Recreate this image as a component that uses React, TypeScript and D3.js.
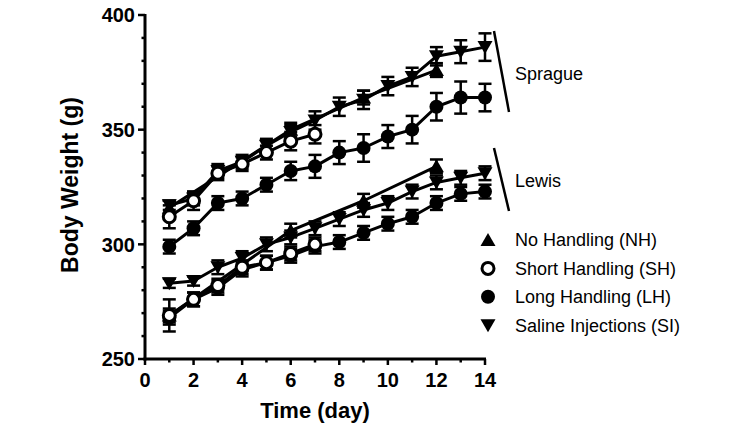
import React from 'react'
import { scaleLinear, line, range } from 'd3'

// days measured
const allDays = range(1, 15)
const earlyDays = range(1, 8)
const nhDays = [1, 6, 9, 12]

// Sprague
const spragueNH = [316, 350, 364, 376]
const spragueNHErr = [3, 3, 3, 3]
const spragueSH = [312, 319, 331, 335, 340, 345, 348]
const spragueSHErr = [5, 4, 3, 3, 3, 4, 4]
const spragueLH = [299, 307, 318, 320, 326, 332, 334, 340, 342, 347, 350, 360, 364, 364]
const spragueLHErr = [3, 3, 3, 3, 3, 4, 5, 5, 6, 5, 6, 6, 7, 6]
const spragueSI = [317, 320, 332, 336, 343, 349, 354, 360, 363, 369, 373, 382, 384, 386]
const spragueSIErr = [2, 3, 3, 3, 3, 3, 4, 4, 4, 4, 4, 4, 5, 6]

// Lewis
const lewisNH = [269, 306, 319, 334]
const lewisNHErr = [7, 3, 3, 3]
const lewisSH = [269, 276, 282, 290, 292, 296, 300]
const lewisSHErr = [3, 3, 3, 3, 3, 3, 3]
const lewisLH = [268, 276, 281, 289, 292, 295, 299, 301, 305, 309, 312, 318, 322, 323]
const lewisLHErr = [3, 3, 3, 3, 3, 3, 3, 3, 3, 3, 3, 3, 3, 3]
const lewisSI = [283, 284, 290, 294, 300, 303, 307, 311, 315, 318, 323, 327, 329, 331]
const lewisSIErr = [2, 2, 3, 3, 3, 3, 3, 3, 3, 3, 3, 3, 3, 3]

const xTicks = [0, 2, 4, 6, 8, 10, 12, 14]
const yTicks = [250, 300, 350, 400]
const legendLabels = ['No Handling (NH)', 'Short Handling (SH)', 'Long Handling (LH)', 'Saline Injections (SI)']
const legendShapes = ['up', 'open', 'dot', 'down']

const font = 'Liberation Sans, Arial, Helvetica, sans-serif'

function Marker({ shape, x, y }) {
	if (shape === 'up') {
		return <path d={`M${x},${y - 7} L${x + 7.5},${y + 6} L${x - 7.5},${y + 6} Z`} fill="#000" />
	}
	if (shape === 'down') {
		return <path d={`M${x},${y + 7} L${x + 7.5},${y - 6} L${x - 7.5},${y - 6} Z`} fill="#000" />
	}
	if (shape === 'open') {
		return <circle cx={x} cy={y} r={6} fill="#fff" stroke="#000" strokeWidth={3} />
	}
	return <circle cx={x} cy={y} r={7} fill="#000" />
}

function App() {
	const x = scaleLinear().domain([0, 14]).range([145, 485])
	const y = scaleLinear().domain([250, 400]).range([359, 15])
	const path = line()
		.x((d) => x(d[0]))
		.y((d) => y(d[1]))

	const series = [
		{ days: allDays, vals: spragueLH, err: spragueLHErr, shape: 'dot' },
		{ days: nhDays, vals: spragueNH, err: spragueNHErr, shape: 'up' },
		{ days: allDays, vals: spragueSI, err: spragueSIErr, shape: 'down' },
		{ days: earlyDays, vals: spragueSH, err: spragueSHErr, shape: 'open' },
		{ days: allDays, vals: lewisLH, err: lewisLHErr, shape: 'dot' },
		{ days: nhDays, vals: lewisNH, err: lewisNHErr, shape: 'up' },
		{ days: allDays, vals: lewisSI, err: lewisSIErr, shape: 'down' },
		{ days: earlyDays, vals: lewisSH, err: lewisSHErr, shape: 'open' },
	]

	return (
		<svg width={745} height={428} style={{ position: 'absolute', left: 0, top: 0, background: '#fff' }}>
			{/* y axis */}
			<g>
				{range(250, 401, 10).map((t) => (
					<line key={t} x1={t % 50 === 0 ? 138 : 141.5} x2={145} y1={y(t)} y2={y(t)} stroke="#000" strokeWidth={2.5} />
				))}
				<line x1={145} x2={145} y1={y(400) - 1} y2={y(250) + 1.5} stroke="#000" strokeWidth={3} />
				{yTicks.map((t) => (
					<text key={t} x={135} y={y(t)} dy="0.36em" textAnchor="end" fontFamily={font} fontWeight="bold" fontSize={20}>
						{t}
					</text>
				))}
			</g>
			{/* x axis */}
			<g>
				{range(0, 15, 1).map((t) => (
					<line key={t} x1={x(t)} x2={x(t)} y1={y(250)} y2={t % 2 === 0 ? y(250) + 6 : y(250) + 3.5} stroke="#000" strokeWidth={2.5} />
				))}
				<line x1={143.5} x2={x(14) + 1} y1={y(250)} y2={y(250)} stroke="#000" strokeWidth={3} />
				{xTicks.map((t) => (
					<text key={t} x={x(t)} y={387} textAnchor="middle" fontFamily={font} fontWeight="bold" fontSize={20}>
						{t}
					</text>
				))}
			</g>
			<text x={315} y={418} textAnchor="middle" fontFamily={font} fontWeight="bold" fontSize={22}>
				Time (day)
			</text>
			<text transform="translate(78,185) rotate(-90)" textAnchor="middle" fontFamily={font} fontWeight="bold" fontSize={23}>
				Body Weight (g)
			</text>

			{series.map((s, i) => {
				const pts = s.days.map((d, j) => [d, s.vals[j]])
				return (
					<g key={i}>
						<path d={path(pts)} fill="none" stroke="#000" strokeWidth={3} strokeLinejoin="round" />
						{pts.map((p, j) => {
							const cx = x(p[0])
							const top = y(p[1] + s.err[j])
							const bot = y(p[1] - s.err[j])
							return (
								<g key={j} stroke="#000" strokeWidth={2.5}>
									<line x1={cx} x2={cx} y1={top} y2={bot} />
									<line x1={cx - 6.5} x2={cx + 6.5} y1={top} y2={top} />
									<line x1={cx - 6.5} x2={cx + 6.5} y1={bot} y2={bot} />
								</g>
							)
						})}
						{pts.map((p, j) => (
							<Marker key={'m' + j} shape={s.shape} x={x(p[0])} y={y(p[1])} />
						))}
					</g>
				)
			})}

			{/* group brackets */}
			<line x1={494} y1={31} x2={509} y2={112} stroke="#000" strokeWidth={2.5} />
			<line x1={494} y1={148} x2={509} y2={211} stroke="#000" strokeWidth={2.5} />
			<text x={515} y={80} fontFamily={font} fontSize={18}>
				Sprague
			</text>
			<text x={515} y={187} fontFamily={font} fontSize={18}>
				Lewis
			</text>

			{/* legend */}
			{legendLabels.map((lab, i) => {
				const ly = 240 + i * 28.4
				return (
					<g key={lab}>
						<Marker shape={legendShapes[i]} x={488} y={ly} />
						<text x={515} y={ly} dy="0.36em" fontFamily={font} fontSize={18}>
							{lab}
						</text>
					</g>
				)
			})}
		</svg>
	)
}

export default App
